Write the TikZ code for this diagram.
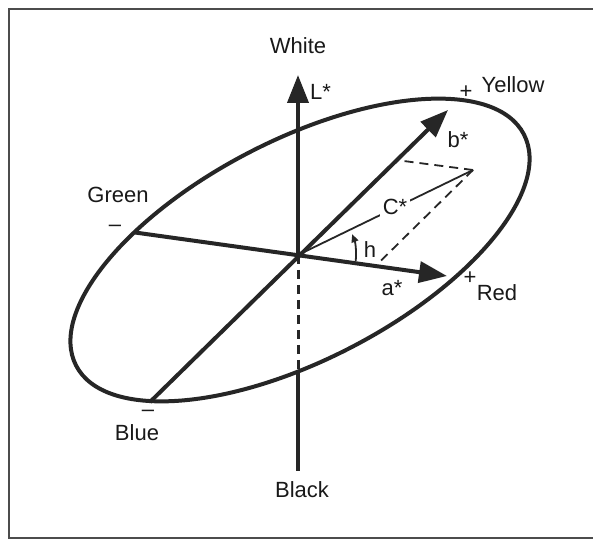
\documentclass[tikz,border=0pt]{standalone}
\usepackage{fontspec}
\setmainfont{Liberation Sans}
\usetikzlibrary{arrows.meta}
\begin{document}
\begin{tikzpicture}[x=1pt,y=1pt,
  axis/.style={line width=4pt, draw=black!85},
  bigtip/.style={-{Triangle[length=28pt,width=21pt]}},
  thin/.style={line width=1.8pt, draw=black!85},
  lab/.style={font=\fontsize{22}{26}\selectfont, inner sep=1pt, text=black!90},
]
\useasboundingbox (0,0) rectangle (593,540);
\fill[white] (0,0) rectangle (593,540);
\draw[line width=2pt, black!70] (9,2) rectangle (600,531);

% ellipse
\draw[axis] (300,290) ellipse[x radius=252, y radius=110, rotate=27.3];

% coordinates
\coordinate (O) at (298,285);
\coordinate (Ltip) at (298,465);
\coordinate (Ldash) at (298,170);
\coordinate (Lbot) at (298,69);
\coordinate (G) at (135,307.5);
\coordinate (Atip) at (447,264);
\coordinate (B) at (150,138);
\coordinate (Btip) at (448,430);
\coordinate (P) at (473,370);
\coordinate (Pb) at (396,380);
\coordinate (Pa) at (375.5,274);

% axes
\draw[axis, bigtip] (O) -- (Ltip);
\draw[axis, line width=3pt, dash pattern=on 9pt off 6pt] (O) -- (Ldash);
\draw[axis] (Ldash) -- (Lbot);
\draw[axis, bigtip] (G) -- (Atip);
\draw[axis, bigtip] (B) -- (Btip);

% chroma
\draw[thin] (O) -- (P);
\draw[thin, dash pattern=on 9pt off 6pt] (P) -- (Pb);
\draw[thin, dash pattern=on 9pt off 6pt] (P) -- (Pa);
\node[lab, fill=white, inner sep=3pt] (cs) at (395,333) {C*};

% hue arc
\draw[thin, -{Triangle[length=8pt,width=7pt]}] (O) ++(-6:58) arc[start angle=-6, end angle=21, radius=58];

% labels
\node[lab] (white) at (298,494) {White};
\node[lab, anchor=west] (ls) at (309,448) {L*};
\node[lab] (yellow) at (513,455) {Yellow};
\node[lab] (yplus) at (466,448) {+};
\node[lab] (bs) at (458,400) {b*};
\node[lab] (green) at (118,345) {Green};
\node[lab] (gminus) at (115,312) {–};
\node[lab] (h) at (370,290) {h};
\node[lab] (as) at (392,252) {a*};
\node[lab] (rplus) at (470,262) {+};
\node[lab] (red) at (497,247) {Red};
\node[lab] (bminus) at (148,127) {–};
\node[lab] (blue) at (137,107) {Blue};
\node[lab] (black) at (302,50) {Black};
\end{tikzpicture}
\end{document}
